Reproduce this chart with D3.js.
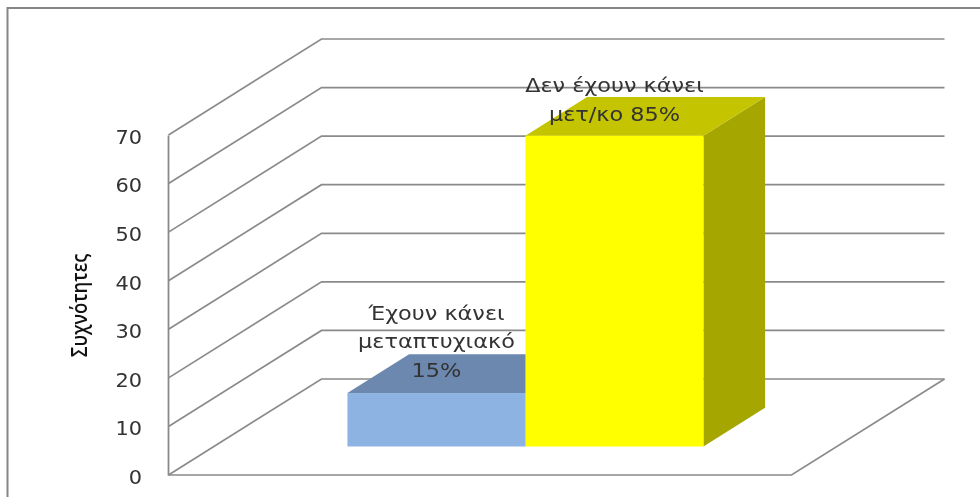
<!DOCTYPE html>
<html>
<head>
<meta charset="utf-8">
<script src="https://cdnjs.cloudflare.com/ajax/libs/d3/7.8.5/d3.min.js"></script>
<style>
html,body{margin:0;padding:0;background:#fff;overflow:hidden}
svg{display:block;filter:blur(0.45px)}
text{font-family:"DejaVu Sans",sans-serif;fill:#333}
</style>
</head>
<body>
<svg id="chart" width="980" height="497"></svg>
<script>
const seriesNames = ["Έχουν κάνει μεταπτυχιακό", "Δεν έχουν κάνει μετ/κο"];
const seriesValues = [11, 64];
const barFront = ["#8DB3E2", "#FFFF00"];
const barTop = ["#6C88AE", "#C4C400"];
const barSide = ["#5F7896", "#A6A600"];
const barLabels = [["Έχουν κάνει", "μεταπτυχιακό", "15%"], ["Δεν έχουν κάνει", "μετ/κο 85%"]];
const tickValues = [0, 10, 20, 30, 40, 50, 60, 70];
const axisTitle = "Συχνότητες";

const svg = d3.select("#chart");
const gridColor = "#8a8a8a";

const y = d3.scaleLinear().domain([0, 70]).range([475, 135]);
const x = d3.scaleBand().domain(seriesNames).range([168.5, 791.5]).paddingInner(0).paddingOuter(0.75);
// oblique depth projection: t = 0 at the front of the floor, t = 1 at the back wall
const depth = d3.scaleLinear().domain([0, 1]);
const dx = depth.copy().range([0, 153]);
const dy = depth.copy().range([0, -96]);
const px = (xv, t) => xv + dx(t);
const py = (v, t) => y(v) + dy(t);
const tFront = 0.297, tBack = 0.70;
const line = d3.line();

// frame
svg.append("path")
  .attr("d", line([[7.5, 497], [7.5, 8], [980, 8]]))
  .attr("fill", "none").attr("stroke", "#868686").attr("stroke-width", 2);

// walls + gridlines
const xL = 168.5, xR = 791.5;
const grid = svg.append("g").attr("fill", "none").attr("stroke", gridColor).attr("stroke-width", 1.7);
tickValues.forEach(v => {
  grid.append("path").attr("d", line([[px(xL, 0), py(v, 0)], [px(xL, 1), py(v, 1)], [px(xR, 1), py(v, 1)]]));
});
grid.append("path").attr("d", line([[px(xL, 0), py(0, 0)], [px(xR, 0), py(0, 0)], [px(xR, 1), py(0, 1)]]));

// axis
const tickScale = 1.1;
const axis = svg.append("g").attr("transform", "translate(168,0)")
  .call(d3.axisLeft(y).tickValues(tickValues).tickSize(0).tickSizeOuter(0));
axis.select(".domain").attr("stroke", gridColor).attr("stroke-width", 1.8);
axis.selectAll("text").attr("font-size", 19).attr("dy", "0.44em")
  .attr("x", -26 / tickScale).attr("transform", `scale(${tickScale},1)`)
  .style("font-family", '"DejaVu Sans",sans-serif').style("fill", "#333");

// bars
seriesNames.forEach((name, i) => {
  const x0 = x(name), x1 = x0 + x.bandwidth(), v = seriesValues[i];
  const g = svg.append("g");
  g.append("path").attr("fill", barSide[i])
    .attr("d", line([[px(x1, tFront), py(0, tFront)], [px(x1, tBack), py(0, tBack)], [px(x1, tBack), py(v, tBack)], [px(x1, tFront), py(v, tFront)]]) + "Z");
  g.append("path").attr("fill", barTop[i])
    .attr("d", line([[px(x0, tFront), py(v, tFront)], [px(x0, tBack), py(v, tBack)], [px(x1, tBack), py(v, tBack)], [px(x1, tFront), py(v, tFront)]]) + "Z");
  g.append("rect").attr("fill", barFront[i])
    .attr("x", px(x0, tFront)).attr("y", py(v, tFront))
    .attr("width", x.bandwidth()).attr("height", py(0, tFront) - py(v, tFront));
});

// data labels
const labelX = [436.5, 614.5];
const labelY = [[320, 348, 377], [92, 121]];
barLabels.forEach((lines, i) => {
  lines.forEach((s, j) => {
    svg.append("text")
      .attr("transform", `translate(${labelX[i]},${labelY[i][j]}) scale(1.18,1)`)
      .attr("text-anchor", "middle").attr("font-size", 19).text(s);
  });
});

// axis title
svg.append("text")
  .attr("transform", "translate(87,305.5) rotate(-90) scale(0.84,1)")
  .attr("text-anchor", "middle")
  .attr("font-size", 22)
  .attr("font-weight", 600)
  .style("font-family", '"Open Sans",sans-serif')
  .style("fill", "#111")
  .text(axisTitle);
</script>
</body>
</html>
